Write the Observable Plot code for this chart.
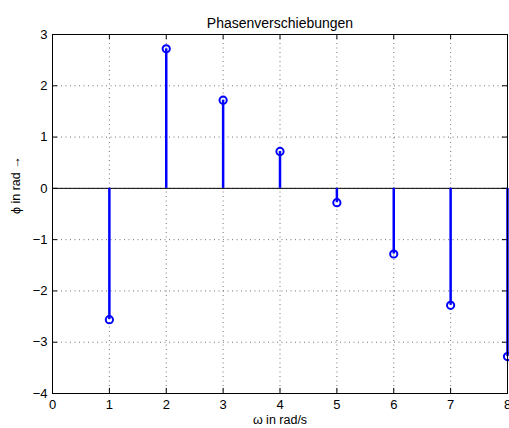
<!DOCTYPE html>
<html>
<head>
<meta charset="utf-8">
<script src="https://cdn.jsdelivr.net/npm/d3@7"></script>
<script src="https://cdn.jsdelivr.net/npm/@observablehq/plot@0.6"></script>
<style>
  html, body { margin: 0; padding: 0; background: #fff; }
  svg { display: block; }
</style>
</head>
<body>
<div id="chart"></div>
<script>
const omega = [1, 2, 3, 4, 5, 6, 7, 8];
const phi = [-2.56, 2.72, 1.72, 0.72, -0.28, -1.28, -2.28, -3.28];
const xTicks = [0, 1, 2, 3, 4, 5, 6, 7, 8];
const yTicks = [-4, -3, -2, -1, 0, 1, 2, 3];
const titleText = "Phasenverschiebungen";
const xLabel = "ω in rad/s";
const yLabel = "ϕ in rad →";

const data = omega.map((w, i) => ({w, p: phi[i]}));
const fmt = d => d < 0 ? "\u2212" + Math.abs(d) : String(d);
const grid = {stroke: "#000", strokeOpacity: 0.55, strokeDasharray: "1,3.5", strokeWidth: 1};

const chart = Plot.plot({
  width: 509,
  height: 428,
  marginLeft: 52,
  marginRight: 2,
  marginTop: 34,
  marginBottom: 35,
  style: {fontFamily: "'Liberation Sans', Arial, Helvetica, sans-serif", fontSize: "11px", color: "#000", background: "#fff"},
  x: {domain: [0, 8]},
  y: {domain: [-4, 3]},
  marks: [
    Plot.ruleX(xTicks.slice(1, -1), {x: d => d, ...grid}),
    Plot.ruleY(yTicks.slice(1, -1), {y: d => d, ...grid}),
    // inward ticks
    Plot.ruleX(xTicks, {x: d => d, y1: -4, y2: -3.9, stroke: "#000"}),
    Plot.ruleX(xTicks, {x: d => d, y1: 3, y2: 2.9, stroke: "#000"}),
    Plot.ruleY(yTicks, {y: d => d, x1: 0, x2: 0.09, stroke: "#000"}),
    Plot.ruleY(yTicks, {y: d => d, x1: 8, x2: 7.91, stroke: "#000"}),
    Plot.ruleY([0], {stroke: "#000", strokeWidth: 1}),
    Plot.ruleX(data, {x: "w", y1: 0, y2: "p", stroke: "#0000ff", strokeWidth: 2.5}),
    Plot.dot(data, {x: "w", y: "p", r: 3.6, stroke: "#0000ff", strokeWidth: 2, fill: "none"}),
    Plot.frame({stroke: "#000", strokeWidth: 1}),
    Plot.axisX(xTicks, {tickSize: 0, tickPadding: 6, tickFormat: fmt, fontSize: 13, label: null}),
    Plot.axisY(yTicks, {tickSize: 0, tickPadding: 5, tickFormat: fmt, fontSize: 13, label: null}),
    Plot.text([titleText], {frameAnchor: "top", dy: -16, fontSize: 14}),
    Plot.text([xLabel], {frameAnchor: "bottom", dy: 30, fontSize: 12.5}),
    Plot.text([yLabel], {frameAnchor: "left", dx: -37, rotate: -90, fontSize: 12.5})
  ]
});
document.getElementById("chart").appendChild(chart);
</script>
</body>
</html>
